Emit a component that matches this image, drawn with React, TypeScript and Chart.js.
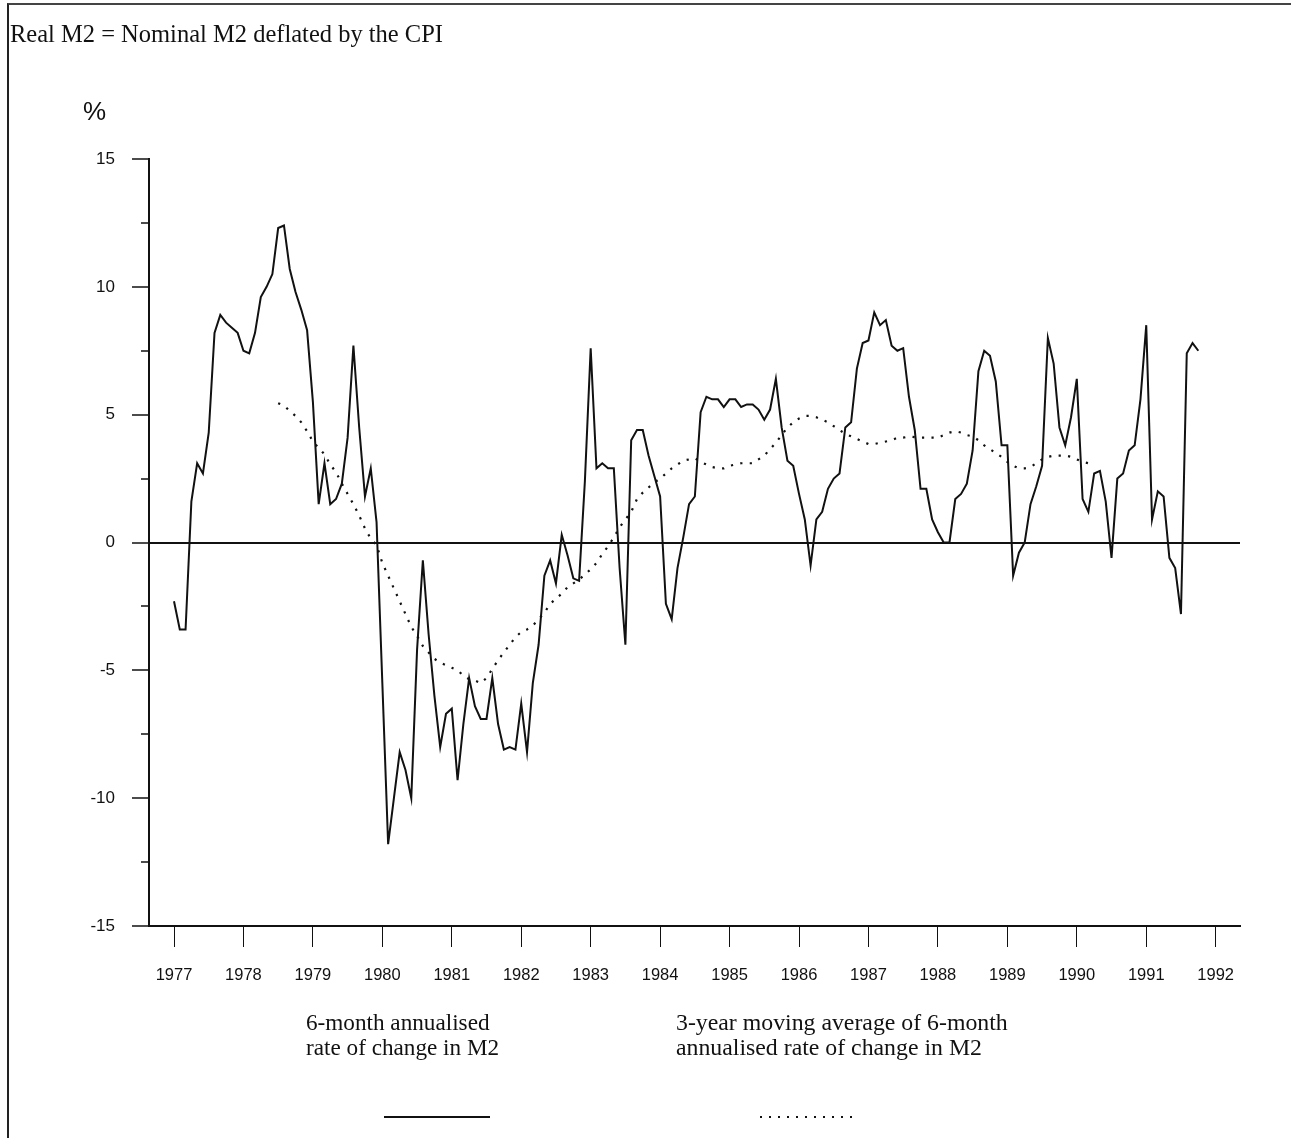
import React, { useEffect, useRef } from "react";
import { Chart, registerables } from "chart.js";

Chart.register(...registerables);

// ---- Data (monthly, starting January 1977) ----
const START_YEAR = 1977;
const MA_START_MONTH = 18; // 3-year centred moving average starts mid-1978

const sixMonthRate = [
  -2.3, -3.4, -3.4, 1.6, 3.1, 2.7, 4.3, 8.2, 8.9, 8.6, 8.4, 8.2,
  7.5, 7.4, 8.2, 9.6, 10.0, 10.5, 12.3, 12.4, 10.7, 9.8, 9.1, 8.3,
  5.5, 1.5, 3.1, 1.5, 1.7, 2.3, 4.1, 7.7, 4.5, 1.8, 2.9, 0.8,
  -5.5, -11.8, -10.0, -8.2, -8.9, -10.0, -4.2, -0.7, -3.6, -6.0, -8.0, -6.7,
  -6.5, -9.3, -7.1, -5.3, -6.4, -6.9, -6.9, -5.3, -7.1, -8.1, -8.0, -8.1,
  -6.3, -8.2, -5.5, -4.0, -1.3, -0.7, -1.6, 0.3, -0.5, -1.4, -1.5, 2.4,
  7.6, 2.9, 3.1, 2.9, 2.9, -1.0, -4.0, 4.0, 4.4, 4.4, 3.4, 2.6,
  1.8, -2.4, -3.0, -1.0, 0.2, 1.5, 1.8, 5.1, 5.7, 5.6, 5.6, 5.3,
  5.6, 5.6, 5.3, 5.4, 5.4, 5.2, 4.8, 5.2, 6.4, 4.5, 3.2, 3.0,
  1.9, 0.9, -0.9, 0.9, 1.2, 2.1, 2.5, 2.7, 4.5, 4.7, 6.8, 7.8,
  7.9, 9.0, 8.5, 8.7, 7.7, 7.5, 7.6, 5.7, 4.4, 2.1, 2.1, 0.9,
  0.4, 0.0, 0.0, 1.7, 1.9, 2.3, 3.6, 6.7, 7.5, 7.3, 6.3, 3.8,
  3.8, -1.3, -0.4, 0.0, 1.5, 2.2, 3.0, 8.0, 7.0, 4.5, 3.8, 4.9,
  6.4, 1.7, 1.2, 2.7, 2.8, 1.6, -0.6, 2.5, 2.7, 3.6, 3.8, 5.6,
  8.5, 0.9, 2.0, 1.8, -0.6, -1.0, -2.8, 7.4, 7.8, 7.5,
];

const movingAverage = [
  5.45, 5.35, 5.15, 4.95, 4.7, 4.35, 3.95, 3.7, 3.45, 3.05, 2.75, 2.3,
  1.9, 1.5, 1.05, 0.55, 0.15, -0.1, -0.8, -1.3, -1.8, -2.3, -2.8, -3.3,
  -3.65, -4.05, -4.3, -4.55, -4.7, -4.8, -4.9, -5.0, -5.2, -5.35, -5.4, -5.5,
  -5.3, -4.95, -4.6, -4.3, -4.0, -3.7, -3.5, -3.4, -3.25, -3.0, -2.75, -2.4,
  -2.2, -2.0, -1.75, -1.6, -1.45, -1.25, -1.05, -0.8, -0.45, -0.15, 0.2, 0.6,
  0.9, 1.2, 1.7, 1.95, 2.15, 2.35, 2.5, 2.7, 2.9, 3.05, 3.2, 3.25,
  3.3, 3.15, 3.05, 2.95, 2.9, 2.9, 3.0, 3.05, 3.1, 3.1, 3.1, 3.25,
  3.4, 3.65, 3.9, 4.2, 4.5, 4.7, 4.85, 4.95, 4.95, 4.9, 4.8, 4.7,
  4.55, 4.4, 4.25, 4.15, 4.05, 3.95, 3.85, 3.85, 3.9, 3.95, 4.0, 4.1,
  4.1, 4.15, 4.12, 4.1, 4.1, 4.1, 4.1, 4.2, 4.3, 4.35, 4.3, 4.2,
  4.15, 4.0, 3.8, 3.65, 3.5, 3.35, 3.15, 3.0, 2.9, 2.9, 2.95, 3.1,
  3.25, 3.35, 3.4, 3.4, 3.4, 3.35, 3.25, 3.15, 3.1, 3.1,
];

const yearTicks = [
  1977, 1978, 1979, 1980, 1981, 1982, 1983, 1984,
  1985, 1986, 1987, 1988, 1989, 1990, 1991, 1992,
];
const yMajorTicks = [-15, -10, -5, 0, 5, 10, 15];
const yMinorTicks = [-12.5, -7.5, -2.5, 2.5, 7.5, 12.5];

const TITLE = "Real M2 = Nominal M2 deflated by the CPI";
const SERIES_LABELS = [
  ["6-month annualised", "rate of change in M2"],
  ["3-year moving average of 6-month", "annualised rate of change in M2"],
];

const W = 1291;
const H = 1138;
const INK = "#111";
const TICK_FONT = "'Liberation Sans Narrow', 'Liberation Sans', Arial, sans-serif";

export default function App() {
  const ref = useRef<HTMLCanvasElement>(null);

  useEffect(() => {
    if (!ref.current) return;
    const solid = sixMonthRate.map((v, i) => ({ x: START_YEAR + i / 12, y: v }));
    const dotted = movingAverage.map((v, i) => ({
      x: START_YEAR + (MA_START_MONTH + i) / 12,
      y: v,
    }));

    const minorTickPlugin = {
      id: "minorTicks",
      afterDraw(chart: any) {
        const ys = chart.scales.y;
        const ctx = chart.ctx;
        const left = chart.chartArea.left;
        ctx.save();
        ctx.strokeStyle = INK;
        ctx.lineWidth = 1.5;
        yMinorTicks.forEach((v) => {
          const py = Math.round(ys.getPixelForValue(v));
          ctx.beginPath();
          ctx.moveTo(left - 8, py);
          ctx.lineTo(left, py);
          ctx.stroke();
        });
        ctx.restore();
      },
    };

    const chart = new Chart(ref.current, {
      type: "line",
      data: {
        datasets: [
          {
            label: SERIES_LABELS[0].join(" "),
            data: solid,
            borderColor: INK,
            borderWidth: 2,
            pointRadius: 0,
            tension: 0,
            fill: false,
          },
          {
            label: SERIES_LABELS[1].join(" "),
            data: dotted,
            borderColor: INK,
            borderWidth: 2.2,
            borderDash: [2.2, 7.3],
            borderCapStyle: "butt",
            pointRadius: 0,
            tension: 0,
            fill: false,
          },
        ],
      },
      options: {
        animation: false,
        responsive: false,
        maintainAspectRatio: false,
        layout: { padding: { top: 159, right: 51, left: 0, bottom: 0 } },
        plugins: {
          legend: { display: false },
          tooltip: { enabled: false },
          title: { display: false },
        },
        scales: {
          x: {
            type: "linear",
            min: 1976.64,
            max: 1992.35,
            afterBuildTicks: (s: any) => {
              s.ticks = yearTicks.map((v) => ({ value: v }));
            },
            afterFit: (s: any) => {
              s.height = H - 926;
            },
            grid: {
              drawOnChartArea: false,
              drawTicks: true,
              tickLength: 21,
              tickColor: INK,
              tickWidth: 1,
            },
            border: { display: true, color: INK, width: 2 },
            ticks: {
              color: INK,
              font: { family: TICK_FONT, size: 16.5 },
              padding: 19,
              maxRotation: 0,
              autoSkip: false,
              callback: (v: any) => String(v),
            },
          },
          y: {
            type: "linear",
            min: -15,
            max: 15,
            afterBuildTicks: (s: any) => {
              s.ticks = yMajorTicks.map((v) => ({ value: v }));
            },
            afterFit: (s: any) => {
              s.width = 149;
            },
            grid: {
              drawOnChartArea: true,
              color: (c: any) => (c.tick && c.tick.value === 0 ? INK : "rgba(0,0,0,0)"),
              lineWidth: 2,
              drawTicks: true,
              tickLength: 17,
              tickColor: INK,
              tickWidth: 1.5,
            },
            border: { display: true, color: INK, width: 2 },
            ticks: {
              color: INK,
              font: { family: TICK_FONT, size: 17 },
              padding: 17,
              autoSkip: false,
              callback: (v: any) => String(v),
            },
          },
        },
      },
      plugins: [minorTickPlugin],
    } as any);

    return () => chart.destroy();
  }, []);

  const serif = "'Liberation Serif', 'Times New Roman', serif";

  return (
    <div
      style={{
        position: "fixed",
        left: 0,
        top: 0,
        width: W,
        height: H,
        background: "#fff",
        overflow: "hidden",
      }}
    >
      <div
        style={{
          position: "absolute",
          left: 7,
          top: 3,
          width: W,
          height: H,
          borderLeft: "2px solid #222",
          borderTop: "2px solid #444",
        }}
      />
      <canvas
        ref={ref}
        width={W}
        height={H}
        style={{ position: "absolute", left: 0, top: 0 }}
      />
      <div
        style={{
          position: "absolute",
          left: 10,
          top: 20,
          fontFamily: serif,
          fontSize: 24.5,
          color: INK,
          whiteSpace: "nowrap",
        }}
      >
        {TITLE}
      </div>
      <div
        style={{
          position: "absolute",
          left: 83,
          top: 96,
          fontFamily: "'Liberation Sans', Arial, sans-serif",
          fontSize: 26,
          color: INK,
        }}
      >
        %
      </div>
      {SERIES_LABELS.map((lines, k) => (
        <div
          key={k}
          style={{
            position: "absolute",
            left: k === 0 ? 306 : 676,
            top: 1010,
            fontFamily: serif,
            fontSize: k === 0 ? 23.2 : 23.8,
            lineHeight: "25px",
            color: INK,
            whiteSpace: "nowrap",
          }}
        >
          {lines.map((t, j) => (
            <div key={j}>{t}</div>
          ))}
        </div>
      ))}
      <div
        style={{
          position: "absolute",
          left: 384,
          top: 1116,
          width: 106,
          height: 2,
          background: INK,
        }}
      />
      <div
        style={{
          position: "absolute",
          left: 760,
          top: 1116,
          width: 92,
          height: 2,
          backgroundImage: `repeating-linear-gradient(to right, ${INK} 0px, ${INK} 2px, transparent 2px, transparent 9px)`,
        }}
      />
    </div>
  );
}
